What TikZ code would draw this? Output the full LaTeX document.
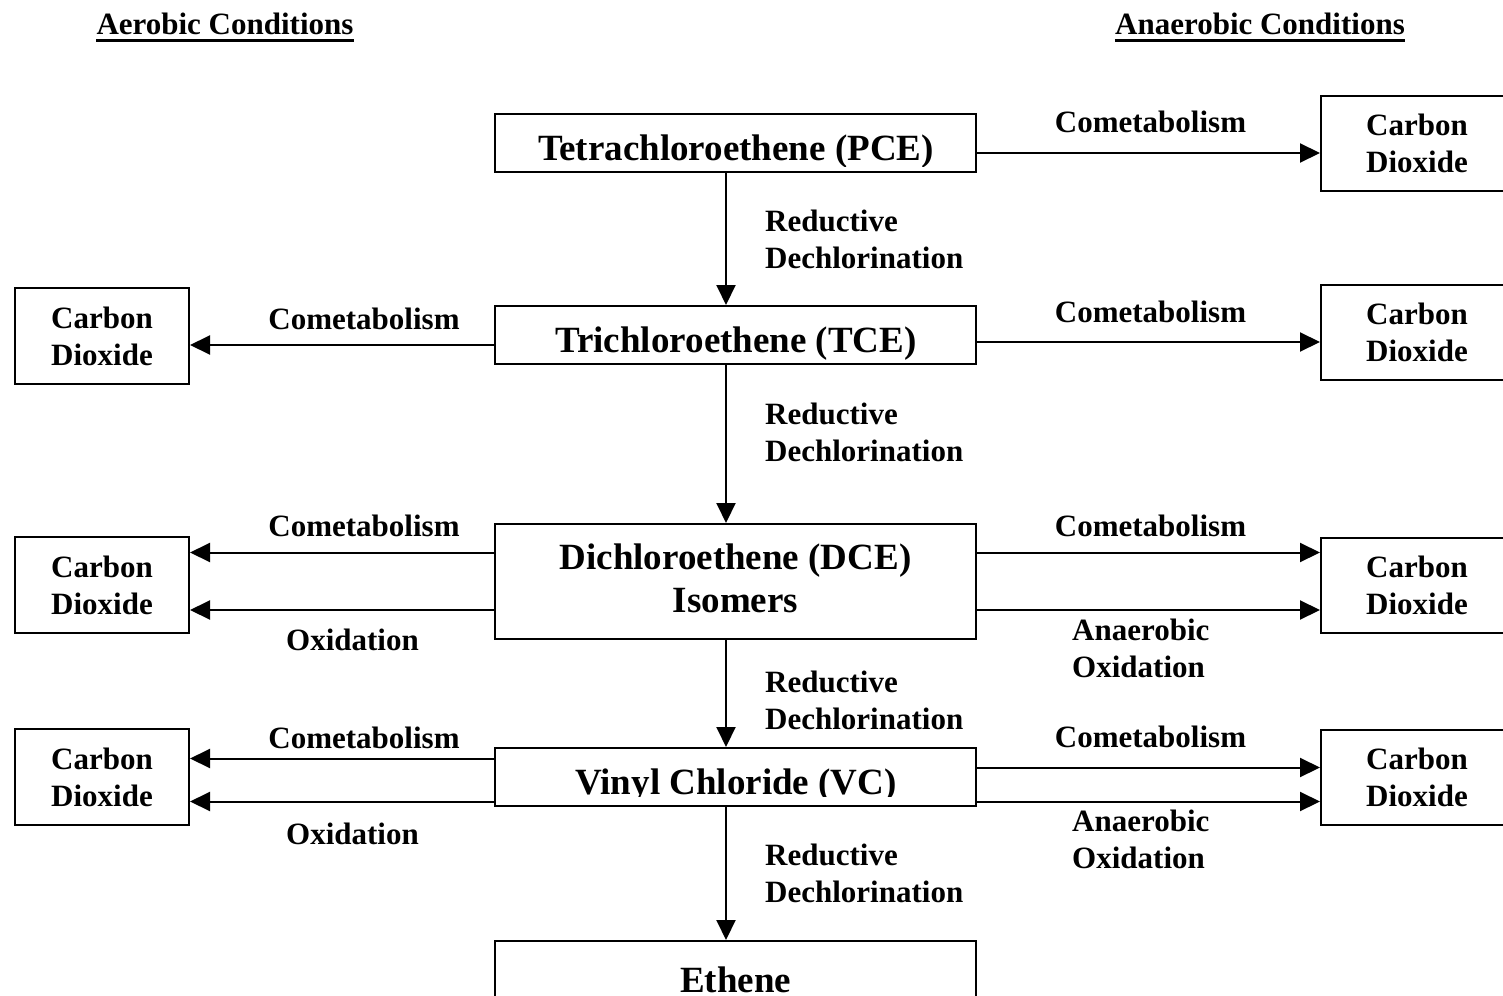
\documentclass[tikz,border=0pt]{standalone}
\usepackage{fontspec}
\setmainfont{Liberation Serif}
\usetikzlibrary{arrows.meta}
\begin{document}
\begin{tikzpicture}[x=1pt,y=-1pt,
  box/.style={draw,line width=2pt,inner sep=0pt},
  lbl/.style={font=\fontsize{31}{37}\selectfont\bfseries,inner sep=0pt},
  mtxt/.style={font=\fontsize{37}{42.5}\selectfont\bfseries,inner sep=0pt},
  arr/.style={line width=2pt,-{Triangle[length=20pt,width=19pt]}},
  co2l/.style={box,minimum width=174pt,minimum height=96pt,align=center,font=\fontsize{31}{37}\selectfont\bfseries},
  co2r/.style={box,minimum width=192pt,minimum height=95pt,align=center,font=\fontsize{31}{37}\selectfont\bfseries},
  mainbox/.style={box,minimum width=481pt,minimum height=58pt}]
\clip (0,0) rectangle (1503,995);
% headers
\node[lbl,anchor=base] (aer) at (225,35) {Aerobic Conditions};
\draw[line width=3pt] ([yshift=-6pt]aer.base west) -- ([yshift=-6pt]aer.base east);
\node[lbl,anchor=base] (ana) at (1260,35) {Anaerobic Conditions};
\draw[line width=3pt] ([yshift=-6pt]ana.base west) -- ([yshift=-6pt]ana.base east);
% main boxes
\node[mainbox] (pce) at (735.5,143) {};
\begin{scope}
\clip (495,114) rectangle (976,167);
\node[mtxt,anchor=base] (pcet) at (736,160.5) {Tetrachloroethene (PCE)};
\end{scope}
\node[mainbox] (tce) at (735.5,335) {};
\begin{scope}
\clip (495,306) rectangle (976,359);
\node[mtxt,anchor=base] (tcet) at (736,352.5) {Trichloroethene (TCE)};
\end{scope}
\node[box,minimum width=481pt,minimum height=115pt] (dce) at (735.5,581.5) {};
\node[mtxt,anchor=base,align=center] (dcet) at (735.5,612) {Dichloroethene (DCE)\\Isomers};
\node[mainbox] (vc) at (735.5,777) {};
\begin{scope}
\clip (495,748) rectangle (976,796);
\node[mtxt,anchor=base] (vct) at (736,794) {Vinyl Chloride (VC)};
\end{scope}
\node[box,minimum width=481pt,minimum height=80pt,anchor=north] (eth) at (735.5,940) {};
\node[mtxt,anchor=base] (etht) at (735.5,992) {Ethene};
% carbon dioxide boxes
\node[co2r] (r1) at (1417,143.5) {Carbon\\Dioxide};
\node[co2r] (r2) at (1417,332.5) {Carbon\\Dioxide};
\node[co2r] (r3) at (1417,585) {Carbon\\Dioxide};
\node[co2r] (r4) at (1417,777) {Carbon\\Dioxide};
\node[co2l] (l2) at (102,336) {Carbon\\Dioxide};
\node[co2l] (l3) at (102,585) {Carbon\\Dioxide};
\node[co2l] (l4) at (102,777) {Carbon\\Dioxide};
% vertical arrows
\draw[arr] (pce.south -| 726,0) -- (tce.north -| 726,0);
\draw[arr] (tce.south -| 726,0) -- (dce.north -| 726,0);
\draw[arr] (dce.south -| 726,0) -- (vc.north -| 726,0);
\draw[arr] (vc.south -| 726,0) -- (eth.north -| 726,0);
\node[lbl,anchor=base west,align=left] (rd1) at (765,268) {Reductive\\Dechlorination};
\node[lbl,anchor=base west,align=left] (rd2) at (765,461) {Reductive\\Dechlorination};
\node[lbl,anchor=base west,align=left] (rd3) at (765,729) {Reductive\\Dechlorination};
\node[lbl,anchor=base west,align=left] (rd4) at (765,902) {Reductive\\Dechlorination};
% horizontal arrows right
\draw[arr] (pce.east |- 0,153) -- (r1.west |- 0,153);
\draw[arr] (tce.east |- 0,342) -- (r2.west |- 0,342);
\draw[arr] (dce.east |- 0,552.5) -- (r3.west |- 0,552.5);
\draw[arr] (dce.east |- 0,610) -- (r3.west |- 0,610);
\draw[arr] (vc.east |- 0,767.5) -- (r4.west |- 0,767.5);
\draw[arr] (vc.east |- 0,801.5) -- (r4.west |- 0,801.5);
% horizontal arrows left
\draw[arr] (tce.west |- 0,345) -- (l2.east |- 0,345);
\draw[arr] (dce.west |- 0,552.5) -- (l3.east |- 0,552.5);
\draw[arr] (dce.west |- 0,610) -- (l3.east |- 0,610);
\draw[arr] (vc.west |- 0,758.5) -- (l4.east |- 0,758.5);
\draw[arr] (vc.west |- 0,801.5) -- (l4.east |- 0,801.5);
% labels right
\node[lbl,anchor=base] (cr1) at (1150.5,133) {Cometabolism};
\node[lbl,anchor=base] (cr2) at (1150.5,322) {Cometabolism};
\node[lbl,anchor=base] (cr3) at (1150.5,536) {Cometabolism};
\node[lbl,anchor=base] (cr4) at (1150.5,747) {Cometabolism};
\node[lbl,anchor=base west,align=left] (ao3) at (1072,677) {Anaerobic\\Oxidation};
\node[lbl,anchor=base west,align=left] (ao4) at (1072,868) {Anaerobic\\Oxidation};
% labels left
\node[lbl,anchor=base] (cl2) at (364,329) {Cometabolism};
\node[lbl,anchor=base] (cl3) at (364,536) {Cometabolism};
\node[lbl,anchor=base] (cl4) at (364,748) {Cometabolism};
\node[lbl,anchor=base] (ox3) at (352.5,650) {Oxidation};
\node[lbl,anchor=base] (ox4) at (352.5,844) {Oxidation};
\end{tikzpicture}
\end{document}
